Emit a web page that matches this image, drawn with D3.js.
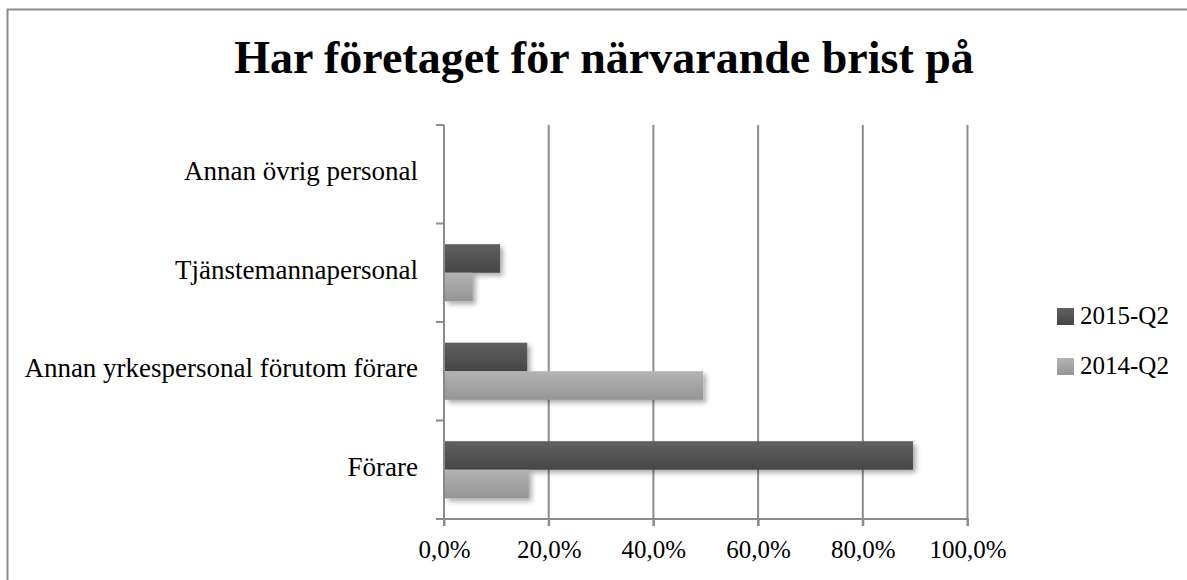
<!DOCTYPE html>
<html>
<head>
<meta charset="utf-8">
<script src="https://cdn.jsdelivr.net/npm/d3@7"></script>
<style>
  html, body { margin: 0; padding: 0; background: #fff; }
  svg { display: block; }
  text { font-family: "Liberation Serif", "Times New Roman", serif; fill: #000; }
</style>
</head>
<body>
<svg id="chart" width="1187" height="580"></svg>
<script>
// Categories listed top to bottom as shown on the vertical axis
const categories = [
  "Annan övrig personal",
  "Tjänstemannapersonal",
  "Annan yrkespersonal förutom förare",
  "Förare"
];
const seriesNames = ["2015-Q2", "2014-Q2"];
const values2015 = [0.0, 0.107, 0.159, 0.896];
const values2014 = [0.0, 0.055, 0.495, 0.162];
const tickValues = [0, 0.2, 0.4, 0.6, 0.8, 1.0];
const titleText = "Har företaget för närvarande brist på";

const seriesValues = { "2015-Q2": values2015, "2014-Q2": values2014 };
const seriesGradients = {
  "2015-Q2": ["#606060", "#464646"],
  "2014-Q2": ["#b3b3b3", "#959595"]
};
const legendFill = { "2015-Q2": "url(#grad-0)", "2014-Q2": "url(#grad-1)" };

const svg = d3.select("#chart");
const defs = svg.append("defs");

seriesNames.forEach((name, i) => {
  const g = defs.append("linearGradient")
    .attr("id", "grad-" + i)
    .attr("x1", 0).attr("y1", 0).attr("x2", 0).attr("y2", 1);
  g.append("stop").attr("offset", "0%").attr("stop-color", seriesGradients[name][0]);
  g.append("stop").attr("offset", "100%").attr("stop-color", seriesGradients[name][1]);
});

const shadow = defs.append("filter")
  .attr("id", "barShadow")
  .attr("x", "-10%").attr("y", "-30%").attr("width", "130%").attr("height", "180%");
shadow.append("feDropShadow")
  .attr("dx", 3).attr("dy", 3).attr("stdDeviation", 2.5)
  .attr("flood-color", "#000").attr("flood-opacity", 0.33);

// Outer frame (left and top edges visible)
svg.append("path")
  .attr("d", "M7.5,580 L7.5,9.5 L1187,9.5")
  .attr("fill", "none").attr("stroke", "#8a8a8a").attr("stroke-width", 2);

// Title
svg.append("text")
  .attr("x", 604).attr("y", 73)
  .attr("text-anchor", "middle")
  .attr("font-weight", "bold")
  .attr("font-size", 46)
  .text(titleText);

const plot = { left: 444, right: 967.5, top: 125, bottom: 519 };

const x = d3.scaleLinear().domain([0, 1]).range([plot.left, plot.right]);
const y = d3.scaleBand().domain(categories)
  .range([plot.top, plot.bottom])
  .paddingInner(0.42).paddingOuter(0.21);
const ySeries = d3.scaleBand().domain(seriesNames).range([0, y.bandwidth()]).padding(0);

const gridColor = "#8c8c8c";

// Vertical gridlines (extend below the axis as tick marks)
svg.append("g").selectAll("line")
  .data(tickValues.slice(1))
  .join("line")
  .attr("x1", d => x(d)).attr("x2", d => x(d))
  .attr("y1", plot.top).attr("y2", plot.bottom + 7)
  .attr("stroke", gridColor).attr("stroke-width", 2);

// Horizontal value axis
const xAxis = d3.axisBottom(x)
  .tickValues(tickValues)
  .tickSize(7)
  .tickPadding(14)
  .tickFormat(d => d3.format(".1f")(d * 100).replace(".", ",") + "%");
const gx = svg.append("g")
  .attr("transform", `translate(0,${plot.bottom})`)
  .call(xAxis);
gx.select(".domain").remove();
gx.selectAll(".tick line").attr("stroke", gridColor).attr("stroke-width", 2);
gx.selectAll(".tick text")
  .attr("font-family", "Liberation Serif")
  .attr("font-size", 25)
  .attr("fill", "#000");
svg.append("line")
  .attr("x1", plot.left - 8).attr("x2", plot.right + 1)
  .attr("y1", plot.bottom).attr("y2", plot.bottom)
  .attr("stroke", gridColor).attr("stroke-width", 2);

// Vertical category axis with tick marks at band boundaries
const step = y.step();
const boundaries = d3.range(categories.length + 1).map(i => plot.top + i * step);
svg.append("line")
  .attr("x1", plot.left).attr("x2", plot.left)
  .attr("y1", plot.top).attr("y2", plot.bottom + 7)
  .attr("stroke", gridColor).attr("stroke-width", 2);
svg.append("g").selectAll("line")
  .data(boundaries)
  .join("line")
  .attr("x1", plot.left - 8).attr("x2", plot.left)
  .attr("y1", d => d).attr("y2", d => d)
  .attr("stroke", gridColor).attr("stroke-width", 2);

// Category labels
svg.append("g").selectAll("text")
  .data(categories)
  .join("text")
  .attr("x", 418)
  .attr("y", d => y(d) - y.paddingOuter() * step + step / 2 + 6)
  .attr("text-anchor", "end")
  .attr("font-size", 27)
  .text(d => d);

// Bars
const barGroups = svg.append("g").selectAll("g")
  .data(seriesNames)
  .join("g")
  .attr("fill", (d, i) => `url(#grad-${i})`)
  .attr("filter", "url(#barShadow)");
barGroups.selectAll("rect")
  .data(name => categories.map((c, i) => ({ name, category: c, value: seriesValues[name][i] })))
  .join("rect")
  .filter(d => d.value > 0)
  .attr("x", x(0) + 1)
  .attr("y", d => y(d.category) + ySeries(d.name))
  .attr("width", d => x(d.value) - x(0) - 1)
  .attr("height", ySeries.bandwidth());

// Legend
const legend = svg.append("g").selectAll("g")
  .data(seriesNames)
  .join("g")
  .attr("transform", (d, i) => `translate(1057,${308 + i * 50})`);
legend.append("rect")
  .attr("width", 17).attr("height", 17)
  .attr("fill", d => legendFill[d]);
legend.append("text")
  .attr("x", 23).attr("y", 16)
  .attr("font-size", 25)
  .text(d => d);
</script>
</body>
</html>
